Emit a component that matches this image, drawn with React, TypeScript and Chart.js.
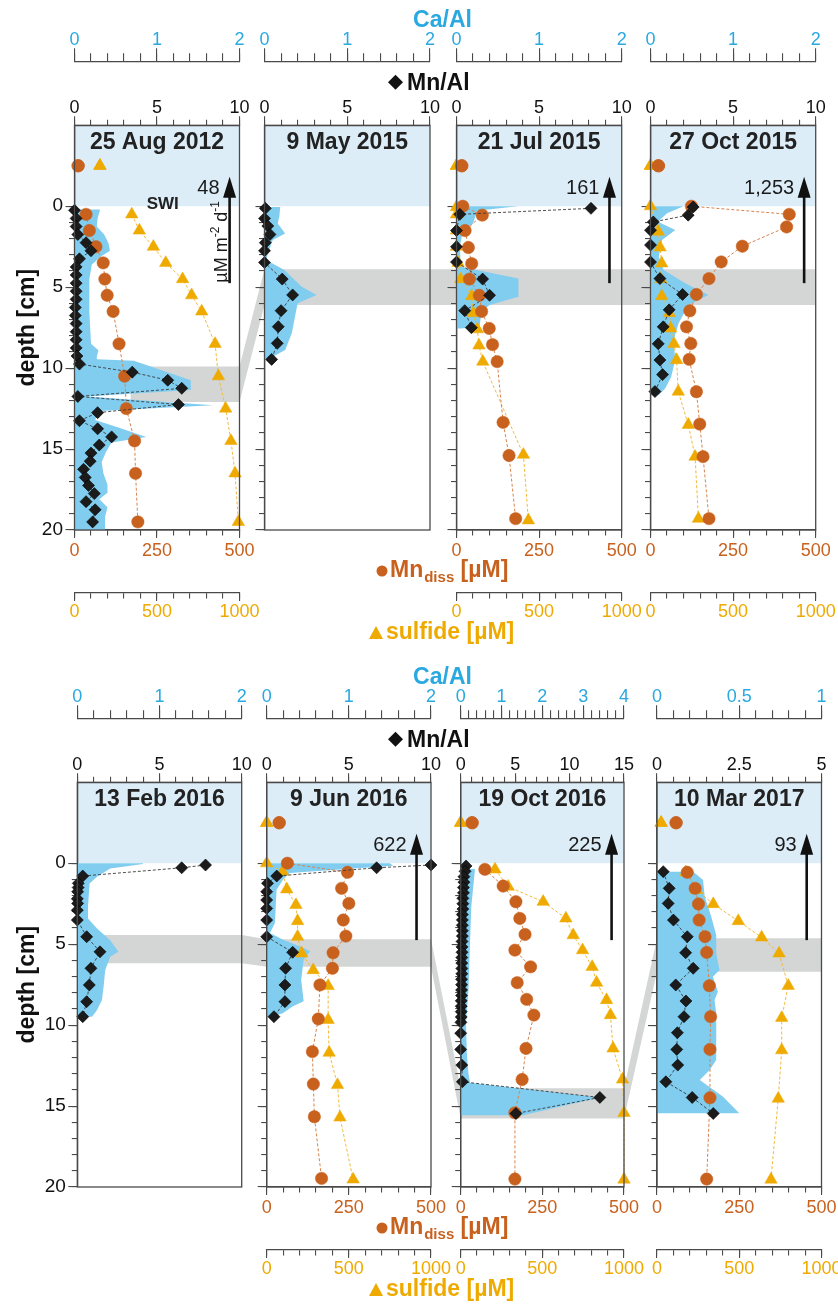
import { useEffect, useRef } from 'react';
import { Chart, registerables } from 'chart.js';

Chart.register(...registerables);

// ====================== DATA ======================
const panelTitles = ['25 Aug 2012', '9 May 2015', '21 Jul 2015', '27 Oct 2015', '13 Feb 2016', '9 Jun 2016', '19 Oct 2016', '10 Mar 2017'];
const fluxLabels = ['48', '', '161', '1,253', '', '622', '225', '93'];

// axis ranges per panel
const caAlMax = [2, 2, 2, 2, 2, 2, 4, 1];
const caAlMinor = [0.2, 0.2, 0.2, 0.2, 0.2, 0.2, 0.2, 0.1];
const caAlMajor = [1, 1, 1, 1, 1, 1, 1, 0.5];
const mnAlMax = [10, 10, 10, 10, 10, 10, 15, 5];
const mnAlMinor = [1, 1, 1, 1, 1, 1, 1, 0.5];
const mnAlMajor = [5, 5, 5, 5, 5, 5, 5, 2.5];
const mnDissMax = 500;
const sulfideMax = 1000;
const depthMin = -5;
const depthMax = 20;

// Panel 1 : 25 Aug 2012
const mnAlDepth_1 = [0.25, 0.75, 1.25, 1.75, 2.25, 2.75, 3.25, 3.75, 4.25, 4.75, 5.25, 5.75, 6.25, 6.75, 7.25, 7.75, 8.25, 8.75, 9.25, 9.75, 10.25, 10.75, 11.25, 11.75, 12.25, 12.75, 13.25, 13.75, 14.25, 14.75, 15.25, 15.75, 16.25, 16.75, 17.25, 17.75, 18.25, 18.75, 19.5];
const mnAl_1 = [0.0, 0.1, 0.1, 0.2, 0.7, 1.0, 0.3, 0.1, 0.1, 0.1, 0.1, 0.1, 0.05, 0.05, 0.1, 0.1, 0.1, 0.1, 0.15, 0.3, 3.5, 5.65, 6.5, 0.2, 6.3, 1.4, 0.3, 1.4, 2.25, 1.5, 1.0, 0.95, 0.55, 0.65, 0.85, 1.2, 0.7, 1.25, 1.1];
const caAlDepth_1 = [0.2, 0.75, 1.25, 1.75, 2.25, 2.75, 3.1, 3.6, 4.5, 5.5, 6.5, 7.5, 8.5, 8.9, 9.3, 9.45, 9.55, 10.75, 11.35, 11.75, 12.3, 12.65, 13.2, 13.7, 14.25, 14.6, 15.2, 15.8, 16.5, 17.2, 17.7, 18.1, 18.6, 19.2, 20];
const caAl_1 = [0.31, 0.28, 0.27, 0.36, 0.41, 0.43, 0.32, 0.21, 0.18, 0.18, 0.18, 0.19, 0.2, 0.29, 0.27, 0.27, 0.72, 1.41, 1.41, 0.15, 1.68, 0.3, 0.25, 0.55, 0.87, 0.45, 0.38, 0.33, 0.35, 0.4, 0.4, 0.3, 0.4, 0.37, 0.37];
const mnDepth_1 = [0.5, 1.5, 2.5, 3.5, 4.5, 5.5, 6.5, 8.5, 10.5, 12.5, 14.5, 16.5, 19.5];
const mn_1 = [35, 45, 65, 87, 92, 99, 117, 135, 152, 157, 182, 185, 192];
const sDepth_1 = [0.5, 1.5, 2.5, 3.5, 4.5, 5.5, 6.5, 8.5, 10.5, 12.5, 14.5, 16.5, 19.5];
const s_1 = [347, 393, 478, 553, 655, 710, 771, 852, 872, 916, 948, 973, 993];

// Panel 2 : 9 May 2015
const mnAlDepth_2 = [0.13, 0.75, 1.22, 1.74, 2.25, 2.75, 3.47, 4.5, 5.48, 6.45, 7.44, 8.47, 9.46];
const mnAl_2 = [0.05, 0.0, 0.2, 0.33, 0.05, 0.0, 0.0, 1.07, 1.7, 1.0, 0.83, 0.77, 0.43];
const caAlDepth_2 = [0.05, 0.6, 1.06, 1.68, 2.09, 2.8, 3.32, 3.94, 4.97, 5.48, 6.0, 6.52, 7.85, 8.88, 9.4];
const caAl_2 = [0.19, 0.18, 0.16, 0.25, 0.1, 0.05, 0.02, 0.24, 0.45, 0.63, 0.4, 0.38, 0.33, 0.25, 0.06];

// Panel 3 : 21 Jul 2015
const mnAlDepth_3 = [0.13, 0.5, 1.5, 2.5, 3.45, 4.5, 5.5, 6.45, 7.5];
const mnAl_3 = [8.14, 0.2, 0.0, 0.0, 0.0, 1.58, 2.0, 0.5, 0.9];
const caAlDepth_3 = [0.0, 0.08, 0.28, 1.06, 1.47, 2.5, 3.43, 3.74, 4.46, 5.59, 6.1, 6.52, 7.44, 7.55];
const caAl_3 = [0.75, 0.6, 0.25, 0.2, 0.08, 0.04, 0.05, 0.05, 0.75, 0.75, 0.4, 0.3, 0.28, 0.05];
const mnDepth_3 = [0.0, 0.55, 1.5, 2.55, 3.55, 4.5, 5.5, 6.5, 7.55, 8.55, 9.6, 13.35, 15.4, 19.3];
const mn_3 = [19, 78, 26, 36, 46, 39, 69, 76, 99, 109, 123, 141, 159, 179];
const sDepth_3 = [0.05, 0.5, 1.5, 2.5, 3.5, 4.5, 5.55, 6.6, 7.6, 8.6, 9.6, 15.35, 19.4];
const s_3 = [0, 0, 0, 0, 10, 25, 92, 102, 126, 136, 159, 405, 435];

// Panel 4 : 27 Oct 2015
const mnAlDepth_4 = [0.05, 0.55, 0.97, 1.48, 2.4, 3.45, 4.47, 5.45, 6.4, 7.45, 8.5, 9.5, 10.4, 11.45];
const mnAl_4 = [2.58, 2.28, 0.17, 0.0, 0.0, 0.0, 0.57, 1.94, 1.13, 0.77, 0.47, 0.57, 0.73, 0.27];
const caAlDepth_4 = [0.0, 0.44, 0.96, 1.47, 2.09, 3.12, 3.94, 4.76, 5.48, 6.1, 7.23, 8.26, 9.5, 10.53, 11.25, 11.66];
const caAl_4 = [0.4, 0.2, 0.09, 0.3, 0.14, 0.1, 0.16, 0.42, 0.7, 0.46, 0.34, 0.28, 0.3, 0.25, 0.18, 0.1];
const mnDepth_4 = [0.0, 0.5, 1.28, 2.47, 3.44, 4.47, 5.45, 6.46, 7.45, 8.48, 9.46, 11.46, 13.46, 15.47, 19.3];
const mn_4 = [124, 420, 412, 278, 214, 177, 139, 119, 109, 122, 117, 139, 149, 159, 177];
const sDepth_4 = [0.0, 1.57, 2.54, 3.53, 4.5, 5.55, 6.6, 7.55, 8.5, 9.5, 11.45, 13.5, 15.47, 19.3];
const s_4 = [0, 47, 58, 68, 62, 68, 114, 122, 142, 158, 168, 229, 270, 290];

// Panel 5 : 13 Feb 2016
const mnAlDepth_5 = [0.11, 0.28, 0.79, 1.24, 1.5, 1.76, 2.2, 2.48, 2.9, 3.51, 4.54, 5.47, 6.49, 7.52, 8.55, 9.48];
const mnAl_5 = [7.8, 6.35, 0.33, 0.06, 0.05, 0.02, 0.0, 0.02, 0.0, 0.0, 0.57, 1.38, 0.83, 0.73, 0.57, 0.33];
const caAlDepth_5 = [0.0, 0.05, 0.32, 0.84, 1.25, 2.69, 3.41, 4.03, 4.75, 5.47, 5.78, 6.6, 7.63, 8.45, 9.07, 9.48];
const caAl_5 = [0.8, 0.8, 0.4, 0.24, 0.15, 0.13, 0.13, 0.24, 0.4, 0.5, 0.4, 0.34, 0.32, 0.3, 0.24, 0.18];

// Panel 6 : 9 Jun 2016
const mnAlDepth_6 = [0.11, 0.28, 0.79, 1.24, 1.76, 2.27, 2.79, 3.51, 4.54, 5.5, 6.49, 7.52, 8.55, 9.48];
const mnAl_6 = [10.0, 6.69, 0.61, 0.05, 0.0, 0.0, 0.0, 0.0, 0.0, 1.58, 1.15, 1.11, 1.11, 0.44];
const caAlDepth_6 = [0.0, 0.15, 0.6, 1.0, 1.63, 3.69, 4.31, 4.72, 5.13, 5.44, 5.96, 7.19, 8.53, 8.84, 9.25, 9.46];
const caAl_6 = [1.5, 1.54, 0.28, 0.2, 0.12, 0.1, 0.04, 0.2, 0.4, 0.53, 0.45, 0.42, 0.45, 0.32, 0.2, 0.08];
const mnDepth_6 = [0.0, 0.56, 1.55, 2.48, 3.51, 4.5, 5.53, 6.49, 7.52, 9.62, 11.64, 13.64, 15.66, 19.47];
const mn_6 = [63, 246, 228, 250, 233, 241, 202, 200, 162, 157, 139, 142, 145, 167];
const sDepth_6 = [0.0, 0.52, 1.61, 2.58, 3.57, 4.54, 5.57, 6.6, 7.58, 9.68, 11.7, 13.7, 15.7, 19.53];
const s_6 = [0, 97, 122, 178, 188, 188, 213, 283, 374, 374, 380, 431, 446, 526];

// Panel 7 : 19 Oct 2016
const mnAlDepth_7 = [0.17, 0.5, 0.83, 1.17, 1.5, 1.83, 2.17, 2.5, 2.83, 3.17, 3.5, 3.83, 4.17, 4.5, 4.83, 5.17, 5.5, 5.83, 6.17, 6.5, 6.83, 7.17, 7.5, 7.83, 8.17, 8.5, 8.83, 9.17, 9.5, 9.83, 10.5, 11.5, 12.47, 13.5, 14.47, 15.46];
const mnAl_7 = [0.49, 0.4, 0.3, 0.3, 0.25, 0.25, 0.2, 0.2, 0.2, 0.15, 0.15, 0.15, 0.15, 0.15, 0.12, 0.12, 0.12, 0.1, 0.1, 0.1, 0.1, 0.08, 0.08, 0.08, 0.08, 0.05, 0.05, 0.05, 0.05, 0.02, 0.0, 0.0, 0.1, 0.15, 12.78, 5.07];
const caAlDepth_7 = [0.35, 2.69, 4.75, 7.84, 9.9, 11.75, 12.99, 13.56, 14.47, 15.56];
const caAl_7 = [0.35, 0.26, 0.23, 0.19, 0.13, 0.15, 0.19, 0.23, 3.4, 1.53];
const mnDepth_7 = [0.38, 1.41, 2.38, 3.41, 4.4, 5.37, 6.4, 7.38, 8.41, 9.38, 11.44, 13.36, 15.42, 19.51];
const mn_7 = [74, 130, 169, 181, 197, 166, 214, 173, 202, 224, 200, 188, 166, 166];
const sDepth_7 = [0.38, 1.45, 2.38, 3.41, 4.44, 5.37, 6.4, 7.38, 8.45, 9.38, 11.44, 13.36, 15.42, 19.54];
const s_7 = [210, 291, 505, 644, 689, 746, 805, 832, 893, 917, 933, 991, 1000, 1000];

// Panel 8 : 10 Mar 2017
const mnAlDepth_8 = [0.52, 1.55, 2.48, 3.51, 4.54, 5.53, 6.49, 7.52, 8.51, 9.48, 10.47, 11.5, 12.47, 13.5, 14.47, 15.46];
const mnAl_8 = [0.19, 0.37, 0.34, 0.5, 0.92, 0.87, 1.1, 0.57, 0.88, 0.82, 0.62, 0.6, 0.63, 0.27, 1.07, 1.71];
const caAlDepth_8 = [0.52, 1.04, 2.07, 3.3, 4.44, 5.57, 6.6, 7.01, 7.94, 8.45, 9.28, 10.92, 12.16, 12.77, 13.39, 13.9, 14.41, 15.03, 15.44];
const caAl_8 = [0.22, 0.28, 0.29, 0.33, 0.36, 0.36, 0.38, 0.34, 0.37, 0.35, 0.36, 0.36, 0.36, 0.32, 0.26, 0.33, 0.4, 0.46, 0.5];
const mnDepth_8 = [0.56, 1.55, 2.52, 3.51, 4.54, 5.51, 7.57, 9.48, 11.5, 14.49, 19.51];
const mn_8 = [92, 116, 126, 128, 146, 151, 159, 163, 161, 161, 151];
const sDepth_8 = [0.56, 1.65, 2.52, 3.57, 4.58, 5.57, 7.57, 9.55, 11.55, 14.54, 19.54];
const s_8 = [175, 241, 342, 494, 636, 742, 798, 758, 758, 737, 693];

// water-column samples (depth -2.5 cm)
const waterDepth = -2.5;
const waterMn = [11, null, 16, 24, null, 38, 35, 58];
const waterS = [154, null, 0, 0, null, 0, 0, 25];

// grey marker bands (depth interval per panel), band start in Mn/Al units
const bandTop = [9.9, 3.9, 3.9, 3.9, 4.43, 4.7, 13.9, 4.64];
const bandBottom = [12.1, 6.1, 6.1, 6.1, 6.18, 6.4, 15.77, 6.7];
const bandStart = [3.4, 0, 0, 0, 0, 0, 0, 0];

// flux arrows (depth range)
const arrowFrom = 4.75;
const arrowTo = -1.82;

// ====================== LAYOUT / STYLE ======================
const FONT = "'Liberation Sans', Arial, Helvetica, sans-serif";
const AX = '#4a4a4a';
const CA_TXT = '#2aa8e0';
const CA_FILL = '#80cdef';
const MN_COL = '#c8611e';
const MN_LINE = '#d8844e';
const S_COL = '#efaa00';
const S_LINE = '#f3bb3c';
const DIA = '#1b1b1b';
const WATER = '#dcedf8';
const BAND = '#d4d5d5';

const PANEL_L = [74.5, 264.5, 456.5, 650.5, 77.3, 266.7, 460.7, 657];
const PANEL_R = [239.5, 430, 621.7, 815.7, 241.7, 431, 624, 821.5];
const ROW_T = [125.3, 782.3];
const ROW_B = [530, 1187];
const HAS_BOTTOM = [true, false, true, true, false, true, true, true];
const HAS_DEPTH_LABELS = [true, false, false, false, true, false, false, false];
const ARROW_FRAC = [0.94, 0, 0.926, 0.93, 0, 0.912, 0.924, 0.91];
const CA_OFFSET = 64;
const S_OFFSET = 63;

const PANELS = [
  { mnAl: mnAl_1, mnAlD: mnAlDepth_1, ca: caAl_1, caD: caAlDepth_1, mn: mn_1, mnD: mnDepth_1, s: s_1, sD: sDepth_1 },
  { mnAl: mnAl_2, mnAlD: mnAlDepth_2, ca: caAl_2, caD: caAlDepth_2, mn: null, mnD: null, s: null, sD: null },
  { mnAl: mnAl_3, mnAlD: mnAlDepth_3, ca: caAl_3, caD: caAlDepth_3, mn: mn_3, mnD: mnDepth_3, s: s_3, sD: sDepth_3 },
  { mnAl: mnAl_4, mnAlD: mnAlDepth_4, ca: caAl_4, caD: caAlDepth_4, mn: mn_4, mnD: mnDepth_4, s: s_4, sD: sDepth_4 },
  { mnAl: mnAl_5, mnAlD: mnAlDepth_5, ca: caAl_5, caD: caAlDepth_5, mn: null, mnD: null, s: null, sD: null },
  { mnAl: mnAl_6, mnAlD: mnAlDepth_6, ca: caAl_6, caD: caAlDepth_6, mn: mn_6, mnD: mnDepth_6, s: s_6, sD: sDepth_6 },
  { mnAl: mnAl_7, mnAlD: mnAlDepth_7, ca: caAl_7, caD: caAlDepth_7, mn: mn_7, mnD: mnDepth_7, s: s_7, sD: sDepth_7 },
  { mnAl: mnAl_8, mnAlD: mnAlDepth_8, ca: caAl_8, caD: caAlDepth_8, mn: mn_8, mnD: mnDepth_8, s: s_8, sD: sDepth_8 },
];

// ====================== HELPERS ======================
function tickValues(from: number, to: number, step: number) {
  const out: number[] = [];
  const n = Math.round((to - from) / step);
  for (let i = 0; i <= n; i++) out.push(Number((from + i * step).toFixed(6)));
  return out;
}
const fmt = (v: number) => String(Number(v.toFixed(3)));
const pts = (xs: number[], ds: number[]) => xs.map((x, i) => ({ x, y: ds[i] }));
const poly = (xs: number[], ds: number[]) => [{ x: 0, y: ds[0] }, ...pts(xs, ds), { x: 0, y: ds[ds.length - 1] }];

function axisPair(id: string, o: any) {
  const make = (major: boolean) => ({
    type: 'linear',
    axis: o.axis,
    position: o.position,
    min: o.min,
    max: o.max,
    reverse: !!o.reverse,
    afterFit: (s: any) => {
      if (o.axis === 'x') s.height = 0;
      else s.width = 0;
    },
    afterBuildTicks: (s: any) => {
      s.ticks = tickValues(o.tickFrom, o.max, major ? o.major : o.minor).map((v) => ({ value: v }));
    },
    grid: {
      display: true,
      drawOnChartArea: false,
      drawTicks: true,
      tickLength: major ? o.lenMajor : o.lenMinor,
      color: AX,
      tickColor: AX,
      lineWidth: 1.1,
      tickWidth: 1.1,
    },
    border: { display: !major, color: AX, width: 1.3 },
    ticks: {
      display: true,
      autoSkip: false,
      maxRotation: 0,
      minRotation: 0,
      padding: o.pad,
      color: o.color,
      font: { family: FONT, size: o.fontSize || 18 },
      callback: (v: number) => (major && o.labels ? fmt(v) : ''),
    },
    title: major && o.title
      ? { display: true, text: o.title, color: '#111', padding: 0, font: { family: FONT, size: 23, weight: 'bold' } }
      : { display: false },
  });
  return { [id]: make(false), [id + 'M']: make(true) };
}

function buildScales() {
  const scales: any = {};
  for (let p = 0; p < 8; p++) {
    Object.assign(
      scales,
      axisPair('y' + p, {
        axis: 'y', position: 'left', min: depthMin, max: depthMax, reverse: true, tickFrom: 0,
        minor: 1, major: 5, lenMinor: 5.5, lenMajor: 9, pad: 2.5, color: '#111', fontSize: 19,
        labels: HAS_DEPTH_LABELS[p], title: HAS_DEPTH_LABELS[p] ? 'depth [cm]' : null,
      }),
      axisPair('ca' + p, {
        axis: 'x', position: 'top', min: 0, max: caAlMax[p], tickFrom: 0,
        minor: caAlMinor[p], major: caAlMajor[p], lenMinor: 8, lenMajor: 13, pad: -3, color: CA_TXT, labels: true,
      }),
      axisPair('ma' + p, {
        axis: 'x', position: 'top', min: 0, max: mnAlMax[p], tickFrom: 0,
        minor: mnAlMinor[p], major: mnAlMajor[p], lenMinor: 5.5, lenMajor: 9, pad: -2.2, color: '#111', labels: true,
      })
    );
    if (HAS_BOTTOM[p]) {
      Object.assign(
        scales,
        axisPair('mn' + p, {
          axis: 'x', position: 'bottom', min: 0, max: mnDissMax, tickFrom: 0,
          minor: 50, major: 250, lenMinor: 5.5, lenMajor: 8, pad: 2, color: MN_COL, labels: true,
        }),
        axisPair('s' + p, {
          axis: 'x', position: 'bottom', min: 0, max: sulfideMax, tickFrom: 0,
          minor: 100, major: 500, lenMinor: 5.5, lenMajor: 8, pad: 0.7, color: S_COL, labels: true,
        })
      );
    }
  }
  return scales;
}

function buildDatasets() {
  const ds: any[] = [];
  PANELS.forEach((P, p) => {
    ds.push({
      label: 'Ca/Al ' + p,
      data: poly(P.ca, P.caD),
      xAxisID: 'ca' + p,
      yAxisID: 'y' + p,
      indexAxis: 'y',
      showLine: true,
      fill: 'shape',
      backgroundColor: CA_FILL,
      borderColor: 'rgba(0,0,0,0)',
      borderWidth: 0,
      borderDash: [4, 0],
      pointRadius: 0,
      pointHitRadius: 0,
      order: 4,
      clip: false,
    });
    ds.push({
      label: 'Mn/Al ' + p,
      data: pts(P.mnAl, P.mnAlD),
      xAxisID: 'ma' + p,
      yAxisID: 'y' + p,
      showLine: true,
      borderColor: '#3a3a3a',
      borderWidth: 0.9,
      borderDash: [3, 2],
      pointStyle: 'rectRot',
      pointRadius: 6,
      pointBackgroundColor: DIA,
      pointBorderColor: '#000',
      pointBorderWidth: 0.6,
      order: 1,
      clip: false,
    });
    if (P.mn && P.mnD) {
      ds.push({
        label: 'Mn diss ' + p,
        data: pts(P.mn, P.mnD),
        xAxisID: 'mn' + p,
        yAxisID: 'y' + p,
        showLine: true,
        borderColor: MN_LINE,
        borderWidth: 1,
        borderDash: [3, 2],
        pointStyle: 'circle',
        pointRadius: 6.2,
        pointBackgroundColor: MN_COL,
        pointBorderColor: MN_COL,
        pointBorderWidth: 0.5,
        order: 2,
        clip: false,
      });
    }
    if (P.s && P.sD) {
      ds.push({
        label: 'sulfide ' + p,
        data: pts(P.s, P.sD),
        xAxisID: 's' + p,
        yAxisID: 'y' + p,
        showLine: true,
        borderColor: S_LINE,
        borderWidth: 1,
        borderDash: [3, 2],
        pointStyle: 'triangle',
        pointRadius: 7.2,
        pointBackgroundColor: S_COL,
        pointBorderColor: S_COL,
        pointBorderWidth: 0.5,
        order: 3,
        clip: false,
      });
    }
    if (waterMn[p] !== null) {
      ds.push({
        label: 'water Mn ' + p,
        data: [{ x: waterMn[p], y: waterDepth }],
        xAxisID: 'mn' + p,
        yAxisID: 'y' + p,
        showLine: false,
        pointStyle: 'circle',
        pointRadius: 6.2,
        pointBackgroundColor: MN_COL,
        pointBorderColor: MN_COL,
        order: 2,
        clip: false,
      });
    }
    if (waterS[p] !== null) {
      ds.push({
        label: 'water S ' + p,
        data: [{ x: waterS[p], y: waterDepth }],
        xAxisID: 's' + p,
        yAxisID: 'y' + p,
        showLine: false,
        pointStyle: 'triangle',
        pointRadius: 7.2,
        pointBackgroundColor: S_COL,
        pointBorderColor: S_COL,
        order: 3,
        clip: false,
      });
    }
  });
  return ds;
}

function drawDiamond(ctx: any, x: number, y: number, r: number) {
  ctx.beginPath();
  ctx.moveTo(x, y - r);
  ctx.lineTo(x + r, y);
  ctx.lineTo(x, y + r);
  ctx.lineTo(x - r, y);
  ctx.closePath();
  ctx.fill();
}

const figurePlugin = {
  id: 'figureLayout',
  afterLayout(chart: any) {
    const place = (id: string, l: number, t: number, r: number, b: number) => {
      for (const key of [id, id + 'M']) {
        const s = chart.scales[key];
        if (!s) continue;
        s.left = l;
        s.right = r;
        s.top = t;
        s.bottom = b;
        s.width = r - l;
        s.height = b - t;
        s.configure();
      }
    };
    for (let p = 0; p < 8; p++) {
      const row = p < 4 ? 0 : 1;
      const L = PANEL_L[p], R = PANEL_R[p], T = ROW_T[row], B = ROW_B[row];
      place('y' + p, HAS_DEPTH_LABELS[p] ? 14.2 : L - 30, T, L, B);
      place('ca' + p, L, T - CA_OFFSET - 40, R, T - CA_OFFSET);
      place('ma' + p, L, T - 40, R, T);
      if (HAS_BOTTOM[p]) {
        place('mn' + p, L, B, R, B + 40);
        place('s' + p, L, B + S_OFFSET, R, B + S_OFFSET + 40);
      }
    }
  },
  beforeDraw(chart: any) {
    const ctx = chart.ctx;
    ctx.save();
    ctx.fillStyle = '#ffffff';
    ctx.fillRect(0, 0, chart.width, chart.height);
    // water column
    for (let p = 0; p < 8; p++) {
      const ys = chart.scales['y' + p];
      const top = ys.getPixelForValue(depthMin);
      const zero = ys.getPixelForValue(0);
      ctx.fillStyle = WATER;
      ctx.fillRect(PANEL_L[p], top, PANEL_R[p] - PANEL_L[p], zero - top);
    }
    // grey correlation bands
    for (const row of [[0, 1, 2, 3], [4, 5, 6, 7]]) {
      const upper: number[][] = [];
      const lower: number[][] = [];
      for (const p of row) {
        const ys = chart.scales['y' + p];
        const xs = chart.scales['ma' + p];
        const x0 = xs.getPixelForValue(bandStart[p]);
        const x1 = PANEL_R[p];
        upper.push([x0, ys.getPixelForValue(bandTop[p])], [x1, ys.getPixelForValue(bandTop[p])]);
        lower.push([x0, ys.getPixelForValue(bandBottom[p])], [x1, ys.getPixelForValue(bandBottom[p])]);
      }
      ctx.beginPath();
      upper.forEach(([x, y], i) => (i ? ctx.lineTo(x, y) : ctx.moveTo(x, y)));
      lower.reverse().forEach(([x, y]) => ctx.lineTo(x, y));
      ctx.closePath();
      ctx.fillStyle = BAND;
      ctx.fill();
    }
    ctx.restore();
  },
  afterDatasetsDraw(chart: any) {
    const ctx = chart.ctx;
    ctx.save();
    ctx.strokeStyle = AX;
    ctx.lineWidth = 1.3;
    for (let p = 0; p < 8; p++) {
      const row = p < 4 ? 0 : 1;
      ctx.strokeRect(PANEL_L[p], ROW_T[row], PANEL_R[p] - PANEL_L[p], ROW_B[row] - ROW_T[row]);
    }
    ctx.restore();
  },
  afterDraw(chart: any) {
    const ctx = chart.ctx;
    ctx.save();
    ctx.textBaseline = 'middle';
    // panel titles
    for (let p = 0; p < 8; p++) {
      const row = p < 4 ? 0 : 1;
      ctx.font = `bold 23px ${FONT}`;
      ctx.fillStyle = '#222';
      ctx.textAlign = 'center';
      ctx.fillText(panelTitles[p], (PANEL_L[p] + PANEL_R[p]) / 2, ROW_T[row] + 17);
    }
    // shared axis titles
    for (let row = 0; row < 2; row++) {
      const T = ROW_T[row], B = ROW_B[row];
      ctx.font = `bold 23px ${FONT}`;
      ctx.textAlign = 'center';
      ctx.fillStyle = CA_TXT;
      ctx.fillText('Ca/Al', 442.5, T - 105);
      ctx.fillStyle = '#111';
      drawDiamond(ctx, 395.5, T - 43, 7.5);
      ctx.textAlign = 'left';
      ctx.fillText('Mn/Al', 407, T - 42);
      // Mn diss
      ctx.fillStyle = MN_COL;
      ctx.beginPath();
      ctx.arc(382, B + 41, 5.5, 0, Math.PI * 2);
      ctx.fill();
      let x = 390;
      ctx.fillText('Mn', x, B + 41);
      x += ctx.measureText('Mn').width + 1;
      ctx.font = `bold 15px ${FONT}`;
      ctx.fillText('diss', x, B + 48);
      x += ctx.measureText('diss').width;
      ctx.font = `bold 23px ${FONT}`;
      ctx.fillText(' [µM]', x, B + 41);
      // sulfide
      ctx.fillStyle = S_COL;
      ctx.beginPath();
      ctx.moveTo(376, B + 96);
      ctx.lineTo(383, B + 109);
      ctx.lineTo(369, B + 109);
      ctx.closePath();
      ctx.fill();
      ctx.fillText('sulfide [µM]', 386, B + 103);
    }
    // flux arrows
    for (let p = 0; p < 8; p++) {
      if (!fluxLabels[p]) continue;
      const ys = chart.scales['y' + p];
      const x = PANEL_L[p] + ARROW_FRAC[p] * (PANEL_R[p] - PANEL_L[p]);
      const yTail = ys.getPixelForValue(arrowFrom);
      const yTip = ys.getPixelForValue(arrowTo);
      ctx.strokeStyle = '#111';
      ctx.lineWidth = 2.6;
      ctx.beginPath();
      ctx.moveTo(x, yTail);
      ctx.lineTo(x, yTip + 16);
      ctx.stroke();
      ctx.fillStyle = '#111';
      ctx.beginPath();
      ctx.moveTo(x, yTip);
      ctx.lineTo(x + 6.5, yTip + 21);
      ctx.lineTo(x - 6.5, yTip + 21);
      ctx.closePath();
      ctx.fill();
      ctx.font = `20px ${FONT}`;
      ctx.textAlign = 'right';
      ctx.fillStyle = '#1a1a1a';
      ctx.fillText(fluxLabels[p], x - 10, ys.getPixelForValue(-1.12));
    }
    // SWI label and flux unit (panel 1)
    const y0 = chart.scales['y0'];
    const m0 = chart.scales['ma0'];
    ctx.font = `bold 17px ${FONT}`;
    ctx.textAlign = 'center';
    ctx.fillStyle = '#222';
    ctx.fillText('SWI', m0.getPixelForValue(5.35), y0.getPixelForValue(-0.1));

    ctx.save();
    ctx.translate(222, y0.getPixelForValue(2.2));
    ctx.rotate(-Math.PI / 2);
    const parts: [string, number, number][] = [['µM m', 18, 0], ['-2', 12, -6], [' d', 18, 0], ['-1', 12, -6]];
    let total = 0;
    for (const [t, sz] of parts) {
      ctx.font = `${sz}px ${FONT}`;
      total += ctx.measureText(t).width;
    }
    let cx = -total / 2;
    ctx.textAlign = 'left';
    ctx.fillStyle = '#1a1a1a';
    for (const [t, sz, dy] of parts) {
      ctx.font = `${sz}px ${FONT}`;
      ctx.fillText(t, cx, dy);
      cx += ctx.measureText(t).width;
    }
    ctx.restore();

    ctx.restore();
  },
};

export default function App() {
  const ref = useRef<HTMLCanvasElement | null>(null);
  useEffect(() => {
    if (!ref.current) return;
    const chart = new Chart(ref.current, {
      type: 'scatter',
      data: { datasets: buildDatasets() },
      options: {
        responsive: false,
        animation: false,
        devicePixelRatio: 1,
        events: [],
        layout: { padding: 0, autoPadding: false },
        plugins: { legend: { display: false }, tooltip: { enabled: false } },
        scales: buildScales(),
      } as any,
      plugins: [figurePlugin as any],
    } as any);
    return () => chart.destroy();
  }, []);
  return (
    <div style={{ position: 'absolute', left: 0, top: 0, width: 838, height: 1307, background: '#fff' }}>
      <canvas ref={ref} width={838} height={1307} style={{ display: 'block', width: '838px', height: '1307px' }} />
    </div>
  );
}
